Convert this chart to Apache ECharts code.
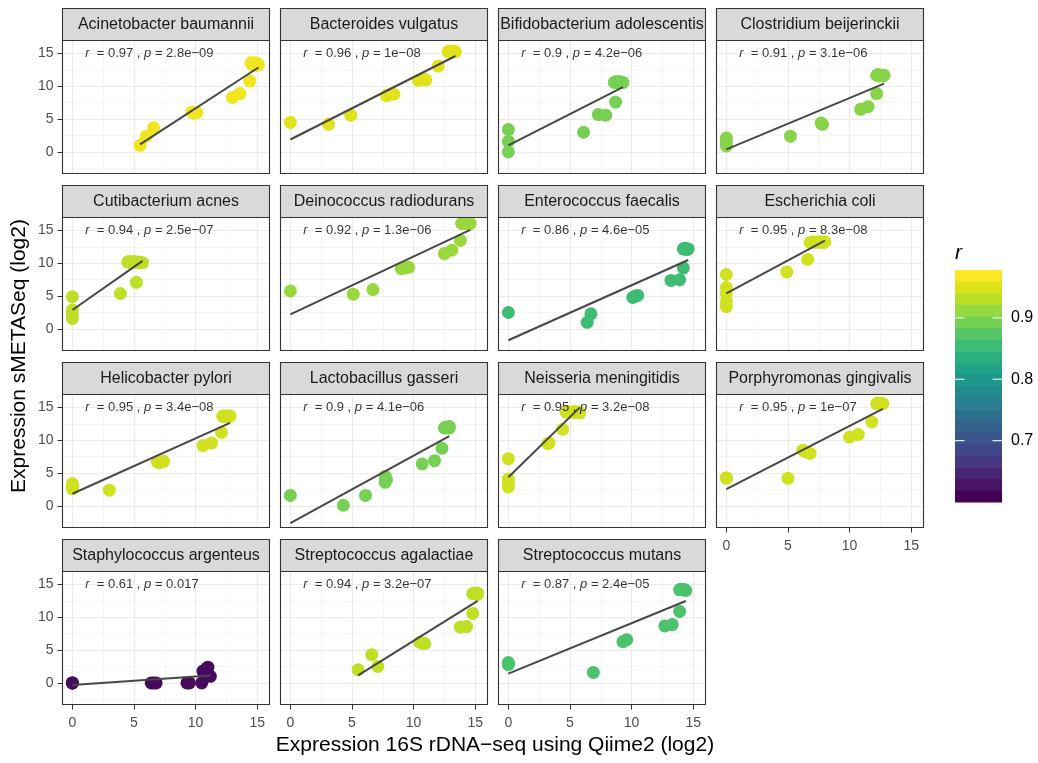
<!DOCTYPE html>
<html>
<head>
<meta charset="utf-8">
<script src="https://cdn.jsdelivr.net/npm/echarts@6/dist/echarts.min.js"></script>
<style>
  html, body { margin: 0; padding: 0; background: #ffffff; }
  #chart { width: 1038px; height: 763px; }
</style>
</head>
<body>
<div id="chart"></div>
<script>
// ---- data -------------------------------------------------------------
const species = [
  'Acinetobacter baumannii', 'Bacteroides vulgatus', 'Bifidobacterium adolescentis', 'Clostridium beijerinckii',
  'Cutibacterium acnes', 'Deinococcus radiodurans', 'Enterococcus faecalis', 'Escherichia coli',
  'Helicobacter pylori', 'Lactobacillus gasseri', 'Neisseria meningitidis', 'Porphyromonas gingivalis',
  'Staphylococcus argenteus', 'Streptococcus agalactiae', 'Streptococcus mutans'
];
const rValues = [0.97, 0.96, 0.9, 0.91, 0.94, 0.92, 0.86, 0.95, 0.95, 0.9, 0.95, 0.95, 0.61, 0.94, 0.87];
const pLabels = ['2.8e\u221209', '1e\u221208', '4.2e\u221206', '3.1e\u221206', '2.5e\u221207', '1.3e\u221206', '4.6e\u221205', '8.3e\u221208',
  '3.4e\u221208', '4.1e\u221206', '3.2e\u221208', '1e\u221207', '0.017', '3.2e\u221207', '2.4e\u221205'];

// [16S rDNA-seq (log2), sMETASeq (log2)] per sample
const acinetobacter = [[5.5,1.0],[6.0,2.4],[6.6,3.7],[9.7,6.1],[9.9,5.9],[10.1,6.0],[13.0,8.3],[13.6,8.9],[14.4,10.8],[14.5,13.6],[14.6,13.3],[14.8,13.6],[14.9,13.2],[15.0,13.5],[15.1,13.3]];
const bacteroides = [[0,4.5],[3.1,4.2],[4.9,5.6],[7.8,8.6],[8.2,8.9],[8.4,8.8],[10.4,10.9],[10.8,11.2],[11.0,11.0],[12.0,13.1],[12.8,15.3],[12.9,15.4],[13.1,15.2],[13.2,15.4],[13.4,15.3]];
const bifidobacterium = [[0,3.4],[0,1.6],[0,0],[6.1,3.0],[7.3,5.7],[7.9,5.6],[8.7,7.6],[8.6,10.6],[8.7,10.7],[8.8,10.6],[8.9,10.7],[9.0,10.6],[9.1,10.7],[9.2,10.6],[9.3,10.6]];
const clostridium = [[0,2.1],[0,0.9],[0,1.5],[5.2,2.4],[7.7,4.4],[7.8,4.2],[10.9,6.5],[11.5,6.9],[12.2,8.9],[12.2,11.7],[12.3,11.8],[12.4,11.6],[12.6,11.7],[12.7,11.6],[12.8,11.7]];
const cutibacterium = [[0,4.9],[0,2.9],[0,1.6],[0,2.3],[3.9,5.4],[5.2,7.1],[4.5,10.2],[4.6,10.3],[4.8,10.1],[5.0,10.3],[5.1,10.2],[5.3,10.1],[5.4,10.2],[5.6,10.1],[5.7,10.1]];
const deinococcus = [[0,5.8],[5.1,5.3],[6.7,6.0],[9.0,9.2],[9.6,9.4],[9.3,9.3],[12.5,11.5],[13.1,12.0],[13.8,13.5],[13.9,16.1],[14.0,16.2],[14.2,16.1],[14.3,16.1],[14.5,16.0],[14.6,16.1]];
const enterococcus = [[0,2.5],[6.4,1.0],[6.7,2.3],[10.1,4.8],[10.5,5.1],[10.3,5.0],[13.2,7.4],[13.9,7.5],[14.2,9.3],[14.2,12.2],[14.3,12.3],[14.4,12.2],[14.5,12.2],[14.5,12.1],[14.6,12.2]];
const escherichia = [[0,8.3],[0,6.3],[0,5.4],[0,4.2],[0,3.4],[4.9,8.7],[6.6,10.6],[6.8,13.2],[7.0,13.3],[7.2,13.2],[7.4,13.3],[7.6,13.2],[7.7,13.3],[7.9,13.2],[8.0,13.3]];
const helicobacter = [[0,3.4],[0,2.6],[0,3.0],[3.0,2.4],[6.9,6.7],[7.4,6.8],[7.1,6.6],[10.6,9.2],[11.3,9.6],[12.1,11.2],[12.2,13.7],[12.3,13.6],[12.5,13.7],[12.6,13.6],[12.8,13.7]];
const lactobacillus = [[0,1.6],[4.3,0.1],[6.1,1.6],[7.7,4.5],[7.7,3.6],[7.8,4.0],[10.7,6.4],[11.7,6.9],[12.3,8.8],[12.5,11.9],[12.6,12.0],[12.7,11.9],[12.8,12.0],[12.9,11.9],[12.9,12.1]];
const neisseria = [[0,7.2],[0,4.1],[0,3.6],[0,2.9],[3.2,9.5],[3.3,9.6],[4.4,11.7],[4.7,14.3],[4.8,14.4],[5.0,14.3],[5.2,14.3],[5.4,14.4],[5.5,14.2],[5.7,14.3],[5.8,14.2]];
const porphyromonas = [[0,4.2],[0,4.3],[5.0,4.2],[6.2,8.5],[6.8,8.0],[6.5,8.2],[10.0,10.5],[10.7,10.9],[11.8,12.8],[12.2,15.6],[12.3,15.7],[12.4,15.6],[12.5,15.6],[12.6,15.7],[12.7,15.6]];
const staphylococcus = [[0,0],[0,0],[0,0],[6.4,0],[6.6,0],[6.8,0],[9.3,0],[9.5,0],[10.7,1.3],[10.5,0],[10.6,1.8],[10.8,1.5],[11.0,2.4],[11.2,1.0],[10.9,2.2]];
const agalactiae = [[5.5,2.0],[6.6,4.3],[7.1,2.5],[10.5,6.2],[10.9,6.0],[10.7,6.1],[13.8,8.5],[14.3,8.6],[14.8,10.6],[14.8,13.6],[14.9,13.7],[15.0,13.6],[15.1,13.6],[15.2,13.7],[15.2,13.5]];
const mutans = [[0,2.9],[0,3.1],[0,2.8],[6.9,1.6],[9.3,6.3],[9.6,6.6],[12.7,8.7],[13.3,8.9],[13.9,10.9],[13.9,14.2],[14.0,14.3],[14.1,14.2],[14.2,14.3],[14.3,14.2],[14.4,14.1]];

const panelData = [acinetobacter, bacteroides, bifidobacterium, clostridium, cutibacterium, deinococcus,
  enterococcus, escherichia, helicobacter, lactobacillus, neisseria, porphyromonas, staphylococcus, agalactiae, mutans];

const xTicks = [0, 5, 10, 15];
const yTicks = [0, 5, 10, 15];
const xMinorTicks = [2.5, 7.5, 12.5];
const yMinorTicks = [-2.5, 2.5, 7.5, 12.5];
const colorbarTicks = [0.7, 0.8, 0.9];
const colorbarLabels = ['0.7', '0.8', '0.9'];

// ---- layout & style ------------------------------------------------------
const FONT = "'Liberation Sans', Arial, Helvetica, sans-serif";
const NCOL = 4;
const PANEL_LEFT = 62.5, PANEL_STEP_X = 218, PANEL_W = 207;
const STRIP_TOP = 8.5, PANEL_STEP_Y = 177, STRIP_H = 32, PLOT_H = 133;
const X_RANGE = [-0.8, 16.0];
const Y_RANGE = [-3.3, 17.0];
const LABEL_POS = [1, 15];          // where the r / p annotation starts (data units)
const COLOR_LIMITS = [0.6, 0.978];  // r range of the colour scale
const BAR = { x: 955, y: 270, w: 47, h: 232, bins: 20 };

const VIRIDIS = ['#440154','#471365','#482475','#463480','#414487','#3B528B','#355F8D','#2F6C8E','#2A788E','#25848E',
  '#21918C','#1E9C89','#22A884','#2FB47C','#44BF70','#5EC962','#7AD151','#9BD93C','#BDDF26','#DFE318','#FDE725'];

function hexToRgb(h) { return [1,3,5].map(i => parseInt(h.slice(i, i + 2), 16)); }
function viridis(t) {
  t = Math.max(0, Math.min(1, t));
  const pos = t * (VIRIDIS.length - 1);
  const i = Math.min(Math.floor(pos), VIRIDIS.length - 2);
  const f = pos - i;
  const a = hexToRgb(VIRIDIS[i]), b = hexToRgb(VIRIDIS[i + 1]);
  const c = a.map((v, k) => Math.round(v + (b[k] - v) * f));
  return 'rgb(' + c.join(',') + ')';
}
function rColor(r) { return viridis((r - COLOR_LIMITS[0]) / (COLOR_LIMITS[1] - COLOR_LIMITS[0])); }

// least-squares line across the observed x range
function fitLine(pts) {
  const n = pts.length;
  let mx = 0, my = 0;
  pts.forEach(p => { mx += p[0]; my += p[1]; });
  mx /= n; my /= n;
  let sxx = 0, sxy = 0;
  pts.forEach(p => { sxx += (p[0] - mx) * (p[0] - mx); sxy += (p[0] - mx) * (p[1] - my); });
  const b = sxy / sxx, a = my - b * mx;
  const xs = pts.map(p => p[0]);
  const x0 = Math.min.apply(null, xs), x1 = Math.max.apply(null, xs);
  return [[x0, a + b * x0], [x1, a + b * x1]];
}

const grids = [], xAxes = [], yAxes = [], series = [], graphics = [];
const nPanels = species.length;

species.forEach((name, i) => {
  const col = i % NCOL, row = Math.floor(i / NCOL);
  const left = PANEL_LEFT + col * PANEL_STEP_X;
  const stripTop = STRIP_TOP + row * PANEL_STEP_Y;
  const top = stripTop + STRIP_H;
  const isBottom = i + NCOL >= nPanels;
  const isLeft = col === 0;

  grids.push({ left: left, top: top, width: PANEL_W, height: PLOT_H, show: true,
    backgroundColor: '#ffffff', borderWidth: 0, containLabel: false, outerBoundsMode: 'none' });

  // main x axis (major grid, ticks, labels)
  xAxes.push({
    gridIndex: i, type: 'value', position: 'bottom', min: X_RANGE[0], max: X_RANGE[1],
    axisLine: { show: false, onZero: false },
    axisTick: { show: isBottom, length: 5, customValues: xTicks, lineStyle: { color: '#333333', width: 1 } },
    axisLabel: { show: isBottom, customValues: xTicks, color: '#4D4D4D', fontSize: 14, fontFamily: FONT, margin: 12 },
    splitLine: { show: true, lineStyle: { color: '#EBEBEB', width: 1.2 } }
  });
  // minor x grid
  xAxes.push({
    gridIndex: i, type: 'value', position: 'top', min: X_RANGE[0], max: X_RANGE[1],
    axisLine: { show: false, onZero: false },
    axisTick: { show: false, customValues: xMinorTicks },
    axisLabel: { show: false, customValues: xMinorTicks },
    splitLine: { show: true, lineStyle: { color: '#F2F2F2', width: 0.7 } }
  });
  yAxes.push({
    gridIndex: i, type: 'value', position: 'left', min: Y_RANGE[0], max: Y_RANGE[1],
    axisLine: { show: false, onZero: false },
    axisTick: { show: isLeft, length: 5, customValues: yTicks, lineStyle: { color: '#333333', width: 1 } },
    axisLabel: { show: isLeft, customValues: yTicks, color: '#4D4D4D', fontSize: 14, fontFamily: FONT, margin: 9 },
    splitLine: { show: true, lineStyle: { color: '#EBEBEB', width: 1.2 } }
  });
  yAxes.push({
    gridIndex: i, type: 'value', position: 'right', min: Y_RANGE[0], max: Y_RANGE[1],
    axisLine: { show: false, onZero: false },
    axisTick: { show: false, customValues: yMinorTicks },
    axisLabel: { show: false, customValues: yMinorTicks },
    splitLine: { show: true, lineStyle: { color: '#F2F2F2', width: 0.7 } }
  });

  const color = rColor(rValues[i]);
  series.push({
    type: 'scatter', xAxisIndex: 2 * i, yAxisIndex: 2 * i, data: panelData[i],
    symbolSize: 13, itemStyle: { color: color, opacity: 1 }, z: 3, silent: true
  });
  series.push({
    type: 'line', xAxisIndex: 2 * i, yAxisIndex: 2 * i, data: fitLine(panelData[i]),
    symbol: 'none', lineStyle: { color: '#474747', width: 2 }, z: 4, silent: true
  });
  series.push({
    type: 'scatter', xAxisIndex: 2 * i, yAxisIndex: 2 * i, data: [LABEL_POS],
    symbolSize: 1, itemStyle: { color: 'rgba(0,0,0,0)' }, z: 5, silent: true,
    label: {
      show: true, position: 'right', distance: 0,
      formatter: '{i|r}  = ' + rValues[i] + ' , {i|p} = ' + pLabels[i],
      color: '#000000', fontSize: 13, fontFamily: FONT,
      rich: { i: { fontStyle: 'italic', fontSize: 13, fontFamily: FONT, color: '#000000' } }
    }
  });

  // facet strip
  graphics.push({ type: 'rect', z: 100, shape: { x: left, y: stripTop, width: PANEL_W, height: STRIP_H },
    style: { fill: '#D9D9D9', stroke: '#333333', lineWidth: 1.1 } });
  graphics.push({ type: 'text', z: 101, x: left + PANEL_W / 2, y: stripTop + STRIP_H / 2,
    style: { text: name, fill: '#1A1A1A', font: '16px ' + FONT, textAlign: 'center', textVerticalAlign: 'middle' } });
  // panel border
  graphics.push({ type: 'rect', z: 100, shape: { x: left, y: top, width: PANEL_W, height: PLOT_H },
    style: { fill: null, stroke: '#333333', lineWidth: 1.1 } });
});

// axis titles
graphics.push({ type: 'text', z: 101, x: 495, y: 745,
  style: { text: 'Expression 16S rDNA\u2212seq using Qiime2 (log2)', fill: '#000000', font: '21px ' + FONT,
    textAlign: 'center', textVerticalAlign: 'middle' } });
graphics.push({ type: 'text', z: 101, x: 19, y: 356, rotation: Math.PI / 2,
  style: { text: 'Expression sMETASeq (log2)', fill: '#000000', font: '21px ' + FONT,
    textAlign: 'center', textVerticalAlign: 'middle' } });

// colour bar legend
graphics.push({ type: 'text', z: 101, x: BAR.x, y: BAR.y - 17,
  style: { text: 'r', fill: '#000000', font: 'italic 21px ' + FONT, textAlign: 'left', textVerticalAlign: 'middle' } });
const binH = BAR.h / BAR.bins;
for (let k = 0; k < BAR.bins; k++) {
  const v = COLOR_LIMITS[1] - (COLOR_LIMITS[1] - COLOR_LIMITS[0]) * k / (BAR.bins - 1);
  graphics.push({ type: 'rect', z: 100, shape: { x: BAR.x, y: BAR.y + k * binH, width: BAR.w, height: binH + 0.6 },
    style: { fill: rColor(v), stroke: null } });
}
colorbarTicks.forEach((v, k) => {
  const y = BAR.y + (COLOR_LIMITS[1] - v) / (COLOR_LIMITS[1] - COLOR_LIMITS[0]) * BAR.h;
  graphics.push({ type: 'line', z: 102, shape: { x1: BAR.x, y1: y, x2: BAR.x + 9.5, y2: y },
    style: { stroke: 'rgba(255,255,255,0.85)', lineWidth: 1.2 } });
  graphics.push({ type: 'line', z: 102, shape: { x1: BAR.x + BAR.w - 9.5, y1: y, x2: BAR.x + BAR.w, y2: y },
    style: { stroke: 'rgba(255,255,255,0.85)', lineWidth: 1.2 } });
  graphics.push({ type: 'text', z: 102, x: BAR.x + BAR.w + 9, y: y,
    style: { text: colorbarLabels[k], fill: '#000000', font: '16px ' + FONT, textAlign: 'left', textVerticalAlign: 'middle' } });
});

const chart = echarts.init(document.getElementById('chart'), null, { renderer: 'canvas' });
chart.setOption({
  animation: false,
  backgroundColor: '#ffffff',
  grid: grids,
  xAxis: xAxes,
  yAxis: yAxes,
  series: series,
  graphic: { elements: graphics }
});
</script>
</body>
</html>
